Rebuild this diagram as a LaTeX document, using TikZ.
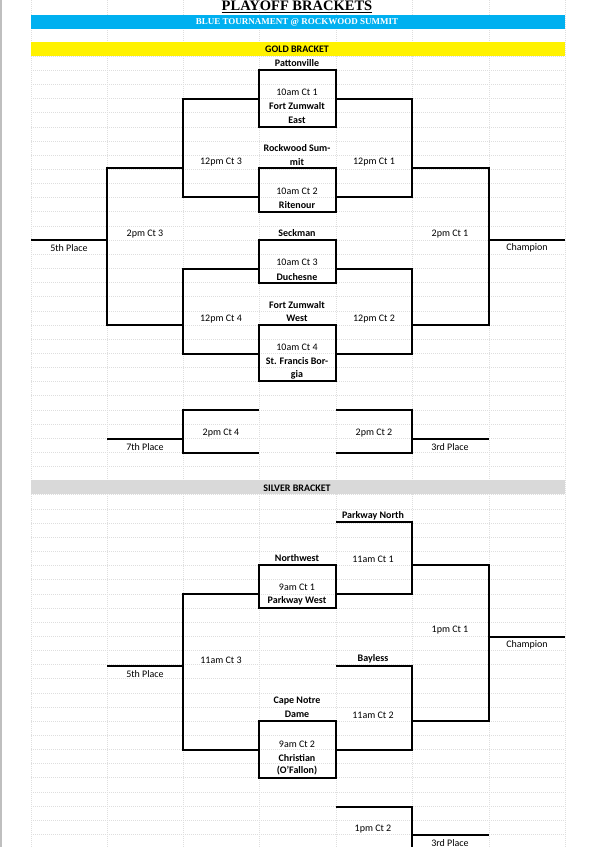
\documentclass[tikz,border=0pt]{standalone}
\usepackage{fontspec}
\setmainfont{Carlito}
\newfontfamily\titlefont{Liberation Serif}
\begin{document}
\begin{tikzpicture}[x=1pt,y=-1pt,
  br/.style={line width=1.1pt,black},
  grid/.style={draw=black!13,line width=0.4pt,dash pattern=on 1pt off 1pt},
  lbl/.style={font=\fontsize{10}{11}\selectfont,inner sep=0pt,anchor=center},
  team/.style={lbl,font=\fontsize{10}{11}\selectfont\bfseries}]
\useasboundingbox (0,0) rectangle (600,847);
\fill[white] (0,0) rectangle (600,847);
\draw[black!25,line width=1.5pt] (1,0) -- (1,847);
% grid
\foreach \k in {0,...,56} \draw[grid] (31,56+14.15*\k) -- (565,56+14.15*\k);
\draw[grid] (31,28) -- (565,28);
\foreach \x in {31,107,183,259,336,412,489,565} \draw[grid] (\x,0) -- (\x,847);
% bands
\fill[fill={rgb,255:red,0;green,176;blue,240}] (31,15) rectangle (565,29);
\fill[yellow] (31,42) rectangle (565,56);
\fill[black!15] (31,480) rectangle (565,494);
\node[font=\titlefont\bfseries\fontsize{14.5}{15}\selectfont,inner sep=0pt] (title) at (297,7) {\underline{PLAYOFF BRACKETS}};
\node[font=\titlefont\bfseries\fontsize{9}{10}\selectfont,text=white,inner sep=0pt] (sub) at (297,22) {BLUE TOURNAMENT @ ROCKWOOD SUMMIT};
\node[team] (gold) at (297,49) {GOLD BRACKET};
\node[team] (silver) at (297,488) {SILVER BRACKET};
% ---------- gold bracket lines
\draw[br] (259,70) rectangle (336,127);
\draw[br] (259,168) rectangle (336,212);
\draw[br] (259,240) rectangle (336,283);
\draw[br] (259,325) rectangle (336,381);
\draw[br] (259,99) -- (183,99) -- (183,197) -- (259,197);
\draw[br] (336,99) -- (412,99) -- (412,197) -- (336,197);
\draw[br] (259,269) -- (183,269) -- (183,354) -- (259,354);
\draw[br] (336,269) -- (412,269) -- (412,354) -- (336,354);
\draw[br] (183,168) -- (107,168) -- (107,325) -- (183,325);
\draw[br] (412,168) -- (489,168) -- (489,325) -- (412,325);
\draw[br] (31,240) -- (107,240);
\draw[br] (489,240) -- (565,240);
\draw[br] (259,410) -- (183,410) -- (183,453) -- (259,453);
\draw[br] (336,410) -- (412,410) -- (412,453) -- (336,453);
\draw[br] (107,439) -- (183,439);
\draw[br] (412,439) -- (489,439);
% gold labels
\node[team] (g1) at (297,63) {Pattonville};
\node[lbl] (g2) at (297,92) {10am Ct 1};
\node[team] (g3) at (297,106) {Fort Zumwalt};
\node[team] (g4) at (297,120) {East};
\node[team] (g5) at (297,148) {Rockwood Sum-};
\node[team] (g6) at (297,162) {mit};
\node[lbl] (g7) at (221,162) {12pm Ct 3};
\node[lbl] (g8) at (374,162) {12pm Ct 1};
\node[lbl] (g9) at (297,191) {10am Ct 2};
\node[team] (g10) at (297,205) {Ritenour};
\node[lbl] (g11) at (145,234) {2pm Ct 3};
\node[team] (g12) at (297,233) {Seckman};
\node[lbl] (g13) at (450,234) {2pm Ct 1};
\node[lbl] (g14) at (69,248) {5th Place};
\node[lbl] (g15) at (527,248) {Champion};
\node[lbl] (g16) at (297,262) {10am Ct 3};
\node[team] (g17) at (297,277) {Duchesne};
\node[team] (g18) at (297,305) {Fort Zumwalt};
\node[team] (g19) at (297,318) {West};
\node[lbl] (g20) at (221,319) {12pm Ct 4};
\node[lbl] (g21) at (374,319) {12pm Ct 2};
\node[lbl] (g22) at (297,347) {10am Ct 4};
\node[team] (g23) at (297,361) {St. Francis Bor-};
\node[team] (g24) at (297,375) {gia};
\node[lbl] (g25) at (221,433) {2pm Ct 4};
\node[lbl] (g26) at (374,433) {2pm Ct 2};
\node[lbl] (g27) at (145,447) {7th Place};
\node[lbl] (g28) at (450,447) {3rd Place};
% ---------- silver bracket lines
\draw[br] (259,565) rectangle (336,608);
\draw[br] (259,721) rectangle (336,778);
\draw[br] (336,522) -- (412,522) -- (412,594) -- (336,594);
\draw[br] (259,594) -- (183,594) -- (183,750) -- (259,750);
\draw[br] (336,666) -- (412,666) -- (412,750) -- (336,750);
\draw[br] (107,666) -- (183,666);
\draw[br] (412,565) -- (489,565) -- (489,721) -- (412,721);
\draw[br] (489,637) -- (565,637);
\draw[br] (336,807) -- (412,807) -- (412,847);
\draw[br] (412,835) -- (489,835);
% silver labels
\node[team] (s1) at (373,516) {Parkway North};
\node[team] (s2) at (297,558) {Northwest};
\node[lbl] (s3) at (373,559) {11am Ct 1};
\node[lbl] (s4) at (297,587) {9am Ct 1};
\node[team] (s5) at (297,601) {Parkway West};
\node[lbl] (s6) at (450,630) {1pm Ct 1};
\node[lbl] (s7) at (527,645) {Champion};
\node[team] (s8) at (373,659) {Bayless};
\node[lbl] (s9) at (221,660) {11am Ct 3};
\node[lbl] (s10) at (145,674) {5th Place};
\node[team] (s11) at (297,701) {Cape Notre};
\node[team] (s12) at (297,714) {Dame};
\node[lbl] (s13) at (373,715) {11am Ct 2};
\node[lbl] (s14) at (297,744) {9am Ct 2};
\node[team] (s15) at (297,758) {Christian};
\node[team] (s16) at (297,771) {(O'Fallon)};
\node[lbl] (s17) at (373,829) {1pm Ct 2};
\node[lbl] (s18) at (450,843) {3rd Place};
\end{tikzpicture}
\end{document}
